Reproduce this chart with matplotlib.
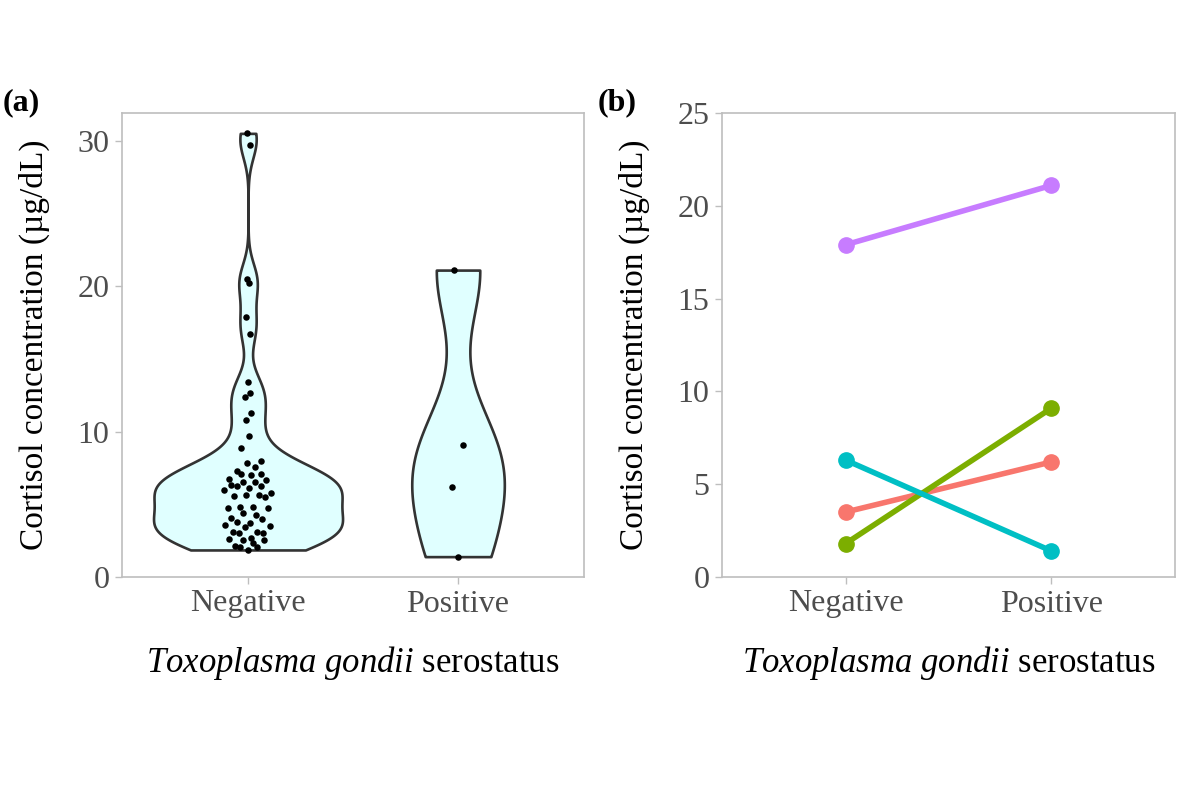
import numpy as np
import matplotlib.pyplot as plt

plt.rcParams['font.family'] = ['Liberation Serif', 'DejaVu Serif']
plt.rcParams['mathtext.fontset'] = 'custom'
plt.rcParams['mathtext.rm'] = 'Liberation Serif'
plt.rcParams['mathtext.it'] = 'Liberation Serif:italic'

# ---- data ----
groups = ["Negative", "Positive"]

neg_vals = [30.5, 29.7, 20.5, 20.2, 17.9, 16.7, 13.4, 12.65, 12.4, 11.3,
            10.8, 9.7, 8.9,
            7.98, 7.82, 7.59, 7.32, 7.09, 7.09, 7.02, 6.72, 6.68, 6.56,
            6.52, 6.33, 6.26, 6.26, 6.10, 5.99, 5.76, 5.57, 5.64, 5.53,
            5.64, 4.73, 4.80, 4.73, 4.80, 4.43, 4.27, 4.04, 3.97, 3.81,
            3.58, 3.69, 3.46, 3.51, 3.12, 3.01, 3.12, 3.05, 2.66, 2.55,
            2.59, 2.55, 2.32, 2.13, 2.09, 2.04, 1.86]
pos_vals = [21.1, 9.1, 6.2, 1.4]

pair_neg = [3.5, 1.8, 6.3, 17.9]
pair_pos = [6.2, 9.1, 1.4, 21.1]
pair_colors = ["#F8766D", "#7CAE00", "#00BFC4", "#C77CFF"]


def bw_nrd0(x):
    x = np.asarray(x)
    iqr = np.subtract(*np.percentile(x, [75, 25]))
    lo = min(np.std(x, ddof=1), iqr / 1.34)
    return 0.9 * lo * len(x) ** -0.2


def kde(x, grid):
    x = np.asarray(x)
    bw = bw_nrd0(x)
    z = (grid[:, None] - x[None, :]) / bw
    return np.exp(-0.5 * z ** 2).sum(axis=1) / (len(x) * bw * np.sqrt(2 * np.pi))


def vdc(n):
    out = []
    for i in range(1, n + 1):
        v, denom, k = 0.0, 1.0, i
        while k:
            denom *= 2
            k, r = divmod(k, 2)
            v += r / denom
        out.append(v)
    return np.array(out)


data = [np.array(neg_vals), np.array(pos_vals)]
grids = [np.linspace(d.min(), d.max(), 512) for d in data]
dens = [kde(d, g) for d, g in zip(data, grids)]
gmax = max(d.max() for d in dens)

fig = plt.figure(figsize=(12, 8), dpi=100)
ax1 = fig.add_axes([0.1017, 0.27875, 0.385, 0.58])
ax2 = fig.add_axes([0.6017, 0.27875, 0.3775, 0.58])

# ---- (a) violins with points ----
for i, (d, g, de) in enumerate(zip(data, grids, dens)):
    pos = i + 1
    w = de / gmax * 0.45
    ax1.fill_betweenx(g, pos - w, pos + w, facecolor="#E0FFFF",
                      edgecolor="#333333", linewidth=1.9, zorder=2)
    # quasirandom-style offsets, scaled by the density at each point
    order = np.argsort(d)
    u = np.empty(len(d))
    u[order] = vdc(len(d)) * 2 - 1
    vw = np.interp(d, g, de) / gmax
    ax1.scatter(pos + u * vw * 0.12, d, s=22, color="black", zorder=3,
                linewidths=0)

ax1.set_xlim(0.4, 2.6)
ax1.set_ylim(0, 31.9)
ax1.set_yticks([0, 10, 20, 30])

# ---- (b) paired lines ----
for a, b, c in zip(pair_neg, pair_pos, pair_colors):
    ax2.plot([1, 2], [a, b], color=c, linewidth=4, marker="o",
             markersize=11, solid_capstyle="round")

ax2.set_xlim(0.4, 2.6)
ax2.set_ylim(0, 25)
ax2.set_yticks([0, 5, 10, 15, 20, 25])

xlab = r"$\mathit{Toxoplasma\ gondii}$ serostatus"
for ax in (ax1, ax2):
    ax.set_xticks([1, 2])
    ax.set_xticklabels(groups)
    for s in ax.spines.values():
        s.set_color("#BEBEBE")
        s.set_linewidth(1.2)
    ax.tick_params(axis="both", colors="#BEBEBE", labelcolor="#4D4D4D",
                   labelsize=23, length=5, width=1.0, pad=4)
    ax.set_ylabel("Cortisol concentration (µg/dL)", fontsize=24, labelpad=20)
    ax.set_xlabel(xlab, fontsize=25, labelpad=18)

fig.text(0.002, 0.871, "(a)", fontsize=23, fontweight="bold", va="center")
fig.text(0.498, 0.871, "(b)", fontsize=23, fontweight="bold", va="center")

fig.savefig("out.png", dpi=100)
